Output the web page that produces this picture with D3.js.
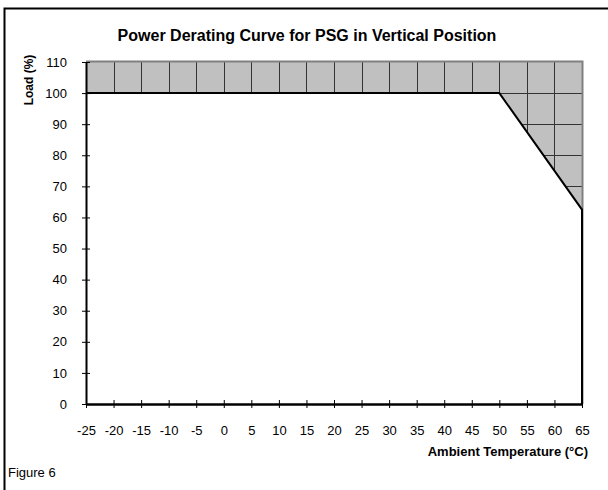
<!DOCTYPE html>
<html>
<head>
<meta charset="utf-8">
<script src="https://cdn.jsdelivr.net/npm/d3@7"></script>
<style>
  html, body { margin: 0; padding: 0; background: #fff; }
  svg { display: block; font-family: "Liberation Sans", Arial, sans-serif; }
</style>
</head>
<body>
<div id="chart"></div>
<script>
// derating curve: temperature (°C) vs load (%)
const curveTemps = [-25, 50, 65, 65];
const curveLoads = [100, 100, 62.5, 0];
const xTicks = [-25, -20, -15, -10, -5, 0, 5, 10, 15, 20, 25, 30, 35, 40, 45, 50, 55, 60, 65];
const yTicks = [0, 10, 20, 30, 40, 50, 60, 70, 80, 90, 100, 110];

const W = 608, H = 490;
const plot = { left: 86, right: 582, top: 62, bottom: 404 };
const FONT = '"Liberation Sans", Arial, sans-serif';

const svg = d3.select('#chart').append('svg')
  .attr('width', W).attr('height', H);

// outer frame (runs off right/bottom edges)
svg.append('rect').attr('x', 4.5).attr('y', 8.5)
  .attr('width', W + 10).attr('height', H + 10)
  .attr('fill', 'none').attr('stroke', '#000').attr('stroke-width', 2);

const x = d3.scaleLinear().domain([-25, 65]).range([plot.left, plot.right]);
const y = d3.scaleLinear().domain([0, 110]).range([plot.bottom, plot.top]);

// gray plot background
svg.append('rect')
  .attr('x', x(-25)).attr('y', y(110))
  .attr('width', x(65) - x(-25)).attr('height', y(0) - y(110))
  .attr('fill', '#c0c0c0');

// gridlines
const grid = svg.append('g').attr('stroke', '#333').attr('stroke-width', 1);
grid.selectAll('line.v').data(xTicks.slice(1, -1)).enter().append('line')
  .attr('x1', d => Math.round(x(d)) + 0.5).attr('x2', d => Math.round(x(d)) + 0.5)
  .attr('y1', y(110)).attr('y2', y(0));
grid.selectAll('line.h').data(yTicks.slice(1, -1)).enter().append('line')
  .attr('y1', d => Math.round(y(d)) + 0.5).attr('y2', d => Math.round(y(d)) + 0.5)
  .attr('x1', x(-25)).attr('x2', x(65));

// white area under the curve
const pts = curveTemps.map((t, i) => [t, curveLoads[i]]);
const area = d3.area().x(d => x(d[0])).y0(y(0)).y1(d => y(d[1]));
svg.append('path').datum(pts).attr('d', area).attr('fill', '#fff');

// gray plot border (top/right)
svg.append('path')
  .attr('d', `M${x(-25)},${y(110) - 0.5}H${x(65) + 0.5}V${y(0)}`)
  .attr('fill', 'none').attr('stroke', '#808080').attr('stroke-width', 2);

// curve
const line = d3.line().x(d => x(d[0])).y(d => y(d[1]));
svg.append('path').datum(pts).attr('d', line)
  .attr('fill', 'none').attr('stroke', '#000').attr('stroke-width', 2);

// axes
const xAxis = d3.axisBottom(x).tickValues(xTicks).tickSize(4).tickSizeOuter(0).tickFormat(d => String(d));
const gx = svg.append('g').attr('transform', `translate(0,${y(0)})`).call(xAxis);
gx.select('.domain').attr('stroke-width', 2.5);
gx.selectAll('.tick line').attr('y1', -4).attr('y2', 4).attr('stroke-width', 1);
gx.selectAll('.tick text').attr('y', 22).attr('font-size', 13).attr('font-family', FONT);

const yAxis = d3.axisLeft(y).tickValues(yTicks).tickSize(4).tickSizeOuter(0);
const gy = svg.append('g').attr('transform', `translate(${x(-25)},0)`).call(yAxis);
gy.select('.domain').attr('stroke-width', 2);
gy.selectAll('.tick line').attr('x1', -4).attr('x2', 4).attr('stroke-width', 1);
gy.selectAll('.tick text').attr('x', -19).attr('font-size', 13).attr('font-family', FONT);

// titles
svg.append('text').attr('x', 307).attr('y', 41).attr('text-anchor', 'middle')
  .attr('font-size', 16).attr('font-weight', 'bold')
  .text('Power Derating Curve for PSG in Vertical Position');

svg.append('text').attr('transform', 'translate(33,80) rotate(-90)')
  .attr('text-anchor', 'middle').attr('font-size', 12).attr('font-weight', 'bold')
  .text('Load (%)');

svg.append('text').attr('x', 588).attr('y', 456).attr('text-anchor', 'end')
  .attr('font-size', 13).attr('font-weight', 'bold')
  .text('Ambient Temperature (°C)');

svg.append('text').attr('x', 8).attr('y', 477)
  .attr('font-size', 13)
  .text('Figure 6');
</script>
</body>
</html>
